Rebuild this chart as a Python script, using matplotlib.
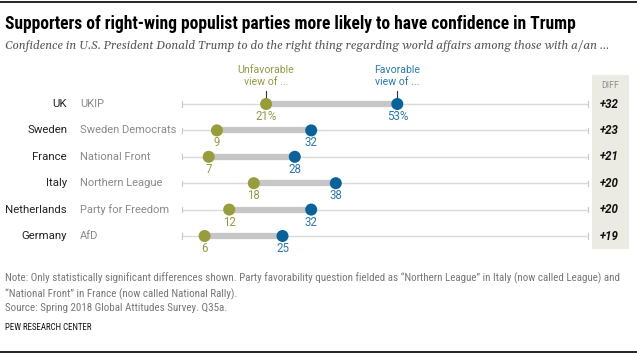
import numpy as np
import matplotlib.pyplot as plt
from matplotlib.transforms import blended_transform_factory
from matplotlib import font_manager

# data
countries = ["UK", "Sweden", "France", "Italy", "Netherlands", "Germany"]
parties = ["UKIP", "Sweden Democrats", "National Front", "Northern League",
           "Party for Freedom", "AfD"]
unfav = [21, 9, 7, 18, 12, 6]
fav = [53, 32, 28, 38, 32, 25]
diffs = ["+32", "+23", "+21", "+20", "+20", "+19"]

installed = {f.name for f in font_manager.fontManager.ttflist}

def pick(cands, default):
    for c in cands:
        if c in installed:
            return c
    return default

narrow = pick(["Roboto Condensed", "Archivo Narrow", "PT Sans Narrow", "Liberation Sans Narrow"], "Roboto")
body = "Roboto"
serif = pick(["Gelasio", "Georgia"], "DejaVu Serif")

green = "#979c3c"
blue = "#09629a"
green_txt = "#959a45"
blue_txt = "#2b79ad"

W, H = 637, 356
fig = plt.figure(figsize=(W / 100, H / 100), dpi=100)
renderer = fig.canvas.get_renderer()

def fx(px):
    return px / W

def fy(py):
    return 1 - py / H

def fit(t, width_px):
    # scale font so the text spans the width seen in the reference
    w = t.get_window_extent(renderer).width
    t.set_fontsize(t.get_fontsize() * width_px / w)
    return t.get_fontsize()

# frame lines top and bottom
fig.add_artist(plt.Line2D([0, 1], [fy(2), fy(2)], color="black", lw=1.2))
fig.add_artist(plt.Line2D([0, 1], [fy(352), fy(352)], color="black", lw=1.2))

t = fig.text(fx(5), fy(24), "Supporters of right-wing populist parties more likely to have confidence in Trump",
             fontsize=11.5, fontweight="bold", family=narrow, va="center")
fit(t, 573)
t = fig.text(fx(5), fy(46), "Confidence in U.S. President Donald Trump to do the right thing regarding world affairs among those with a/an ...",
             fontsize=8.3, style="italic", family=serif, color="#555555", va="center")
fit(t, 603)

# diff column background
fig.add_artist(plt.Rectangle((fx(592), fy(249)), fx(629) - fx(592), fy(75) - fy(249),
                             color="#ecebe3", lw=0, zorder=0))
fig.text(fx(610), fy(86), "DIFF", fontsize=6.3, color="#8c8c8c", ha="center", va="center",
         family=body)

# main axes: 0-100 scale
top_px, bot_px = 60, 260
row0, step = 104, 26.4
ax = fig.add_axes([fx(180), fy(bot_px), fx(590) - fx(180), fy(top_px) - fy(bot_px)])
ax.set_xlim(0, 100)
ax.set_ylim((bot_px - row0) / step, (top_px - row0) / step)
ax.axis("off")

y = np.arange(len(countries))
for i in y:
    ax.plot([0.5, 99.5], [i, i], color="#dadada", lw=1, zorder=1, solid_capstyle="butt")
    ax.plot([0.5, 0.5], [i - 0.1, i + 0.1], color="#c8c8c8", lw=0.8)
    ax.plot([99.5, 99.5], [i - 0.1, i + 0.1], color="#c8c8c8", lw=0.8)
    ax.plot([unfav[i], fav[i]], [i, i], color="#c6c6c6", lw=4.5, zorder=2,
            solid_capstyle="butt")

ax.scatter(unfav, y, s=75, color=green, zorder=3, edgecolors="none")
ax.scatter(fav, y, s=75, color=blue, zorder=3, edgecolors="none")

for i in y:
    s1 = f"{unfav[i]}%" if i == 0 else str(unfav[i])
    s2 = f"{fav[i]}%" if i == 0 else str(fav[i])
    ax.text(unfav[i], i + 0.47, s1, color=green_txt, ha="center", va="center",
            fontsize=8.3, family=body)
    ax.text(fav[i], i + 0.47, s2, color=blue_txt, ha="center", va="center",
            fontsize=8.3, family=body)

# annotation labels above the UK row
ax.text(unfav[0], -1.07, "Unfavorable\nview of ...", color=green_txt, ha="center", va="center",
        fontsize=7.6, family=body, linespacing=1.3)
ax.text(fav[0], -1.07, "Favorable\nview of ...", color=blue_txt, ha="center", va="center",
        fontsize=7.6, family=body, linespacing=1.3)
ax.plot([unfav[0], unfav[0]], [-0.5, -0.2], color="#333333", lw=0.8)
ax.plot([fav[0], fav[0]], [-0.5, -0.2], color="#333333", lw=0.8)

# row labels and diffs
tr = blended_transform_factory(fig.transFigure, ax.transData)
probe = fig.text(0, 0, "Netherlands", fontsize=8.5, family=body)
csize = fit(probe, 61)
probe.remove()
probe = fig.text(0, 0, "Sweden Democrats", fontsize=8.5, family=body)
psize = fit(probe, 95)
probe.remove()
for i in y:
    fig.text(fx(67), i, countries[i], transform=tr, ha="right", va="center",
             fontsize=csize, color="#222222", family=body)
    fig.text(fx(80), i, parties[i], transform=tr, ha="left", va="center",
             fontsize=psize, color="#8a8a8a", family=body)
    fig.text(fx(609), i, diffs[i], transform=tr, ha="center", va="center",
             fontsize=8.3, fontweight="bold", style="italic", color="#111111",
             family=body)

note = ("Note: Only statistically significant differences shown. Party favorability question fielded as \u201cNorthern League\u201d in Italy (now called League) and\n"
        "\u201cNational Front\u201d in France (now called National Rally).\n"
        "Source: Spring 2018 Global Attitudes Survey. Q35a.")
t = fig.text(fx(5), fy(273), note, fontsize=6.8, color="#777777", va="top",
             family=narrow, linespacing=1.42)
fit(t, 624)
t = fig.text(fx(5), fy(328), "PEW RESEARCH CENTER", fontsize=6.8, color="#111111", va="center",
             family=narrow)
fit(t, 88)

fig.savefig("out.png", dpi=100)
